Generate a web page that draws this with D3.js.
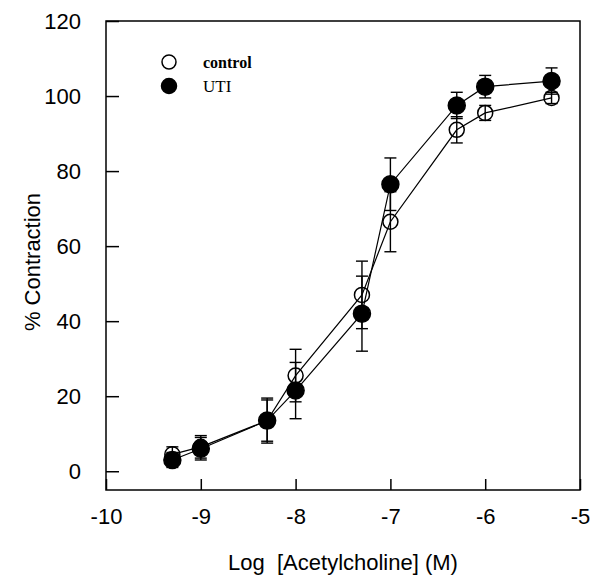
<!DOCTYPE html>
<html>
<head>
<meta charset="utf-8">
<script src="https://cdn.jsdelivr.net/npm/d3@7"></script>
<style>
  body { margin: 0; background: #fff; }
  svg text { font-family: Arial, "Liberation Sans", sans-serif; fill: #000; }
</style>
</head>
<body>
<svg width="600" height="576"></svg>
<script>
// datos
const logConc = [-9.3, -9, -8.3, -8, -7.3, -7, -6.3, -6, -5.3];
const control = [4.5, 6.5, 13.5, 25.5, 47, 66.5, 91, 95.5, 99.5];
const controlErr = [2, 3, 6, 7, 9, 8, 3.5, 2, 1.5];
const uti = [3, 6, 13.5, 21.5, 42, 76.5, 97.5, 102.5, 104];
const utiErr = [2, 3, 5.5, 7.5, 10, 7, 3.5, 3, 3.5];
const xTicks = [-10, -9, -8, -7, -6, -5];
const yTicks = [0, 20, 40, 60, 80, 100, 120];

const svg = d3.select("svg");

const x = d3.scaleLinear().domain([-10, -5]).range([106, 580]);
const y = d3.scaleLinear().domain([-5, 120]).range([490, 21]);

// marco
svg.append("rect")
  .attr("x", x(-10)).attr("y", y(120))
  .attr("width", x(-5) - x(-10)).attr("height", y(-5) - y(120))
  .attr("fill", "none").attr("stroke", "#000").attr("stroke-width", 1.5);

// eje x (ticks hacia dentro), guion normal como en el original
const xAxis = svg.append("g")
  .attr("transform", `translate(0,${y(-5)})`)
  .call(d3.axisBottom(x).tickValues(xTicks).tickFormat(d => String(d))
    .tickSizeInner(-11).tickSizeOuter(0).tickPadding(18));
xAxis.select(".domain").remove();
xAxis.selectAll("line").attr("stroke-width", 1.5);
xAxis.selectAll("text").style("font-size", "22px").attr("font-family", null);

// eje y
const yAxis = svg.append("g")
  .attr("transform", `translate(${x(-10)},0)`)
  .call(d3.axisLeft(y).tickValues(yTicks).tickFormat(d => String(d))
    .tickSizeInner(-13).tickSizeOuter(0).tickPadding(25));
yAxis.select(".domain").remove();
yAxis.selectAll("line").attr("stroke-width", 1.5);
yAxis.selectAll("text").style("font-size", "22px").attr("font-family", null);

// títulos
svg.append("text")
  .attr("x", 343).attr("y", 570)
  .attr("text-anchor", "middle")
  .attr("xml:space", "preserve")
  .style("font-size", "22px")
  .text("Log  [Acetylcholine] (M)");

svg.append("text")
  .attr("transform", "translate(40,262) rotate(-90)")
  .attr("text-anchor", "middle")
  .style("font-size", "22px")
  .text("% Contraction");

// series
const series = [
  { name: "control", vals: control, err: controlErr, filled: false },
  { name: "UTI", vals: uti, err: utiErr, filled: true }
];

const line = d3.line().x(d => x(d[0])).y(d => y(d[1]));

series.forEach(s => {
  svg.append("path")
    .datum(logConc.map((c, i) => [c, s.vals[i]]))
    .attr("d", line)
    .attr("fill", "none")
    .attr("stroke", "#000")
    .attr("stroke-width", 1.2);
});

series.forEach(s => {
  const g = svg.append("g").attr("stroke", "#000").attr("stroke-width", 1.4);
  logConc.forEach((c, i) => {
    const lo = s.vals[i] - s.err[i], hi = s.vals[i] + s.err[i];
    g.append("line").attr("x1", x(c)).attr("x2", x(c)).attr("y1", y(lo)).attr("y2", y(hi));
    g.append("line").attr("x1", x(c) - 6).attr("x2", x(c) + 6).attr("y1", y(lo)).attr("y2", y(lo));
    g.append("line").attr("x1", x(c) - 6).attr("x2", x(c) + 6).attr("y1", y(hi)).attr("y2", y(hi));
  });
});

series.forEach(s => {
  svg.append("g").selectAll("circle")
    .data(logConc.map((c, i) => [c, s.vals[i]]))
    .enter()
    .append("circle")
    .attr("cx", d => x(d[0]))
    .attr("cy", d => y(d[1]))
    .attr("r", s.filled ? 8.5 : 7.5)
    .attr("fill", s.filled ? "#000" : "none")
    .attr("stroke", "#000")
    .attr("stroke-width", 1.5);
});

// leyenda
const legend = svg.append("g");
series.forEach((s, i) => {
  const cy = 62 + i * 24;
  legend.append("circle")
    .attr("cx", 169).attr("cy", cy)
    .attr("r", s.filled ? 7.5 : 7)
    .attr("fill", s.filled ? "#000" : "#fff")
    .attr("stroke", "#000").attr("stroke-width", 1.5);
  legend.append("text")
    .attr("x", 203).attr("y", cy + 6)
    .style("font-family", "'Liberation Serif', 'Times New Roman', serif")
    .style("font-size", s.filled ? "17px" : "16px")
    .style("font-weight", s.filled ? "normal" : "bold")
    .text(s.name);
});
</script>
</body>
</html>
